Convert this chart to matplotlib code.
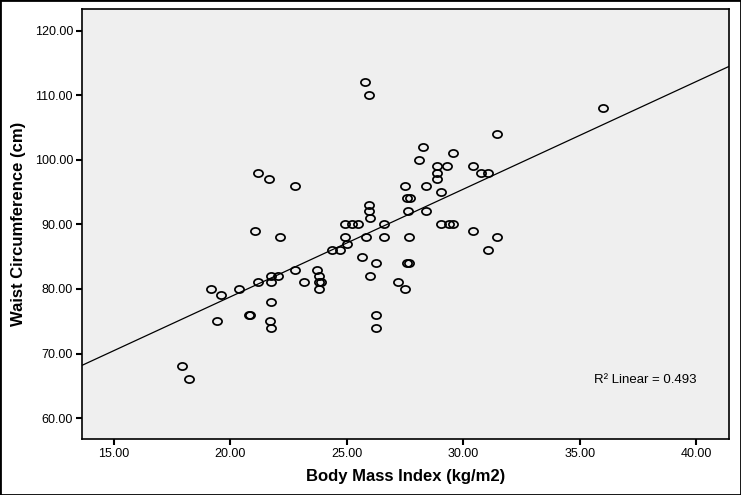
"""
BMI vs waist circumference scatter with linear fit line (SPSS style)
"""

import numpy as np
import matplotlib
matplotlib.use('Agg')
from matplotlib import pyplot as plt
from matplotlib.path import Path
from matplotlib.transforms import Affine2D
from matplotlib.patches import Rectangle

plt.rcParams['font.family'] = ['Liberation Sans', 'DejaVu Sans']

bmi = [25.80, 25.94, 36.00, 31.44, 28.26, 29.55, 28.08, 28.89, 29.30, 30.41,
       28.89, 30.75, 31.08, 21.19, 28.89, 21.67, 27.49, 28.38, 22.77, 29.06,
       27.59, 27.73, 25.94, 25.94, 27.63, 28.38, 26.00, 24.93, 25.24, 25.50,
       26.60, 29.06, 29.39, 29.56, 30.41, 21.05, 24.93, 25.82, 26.60, 27.66,
       31.44, 22.15, 25.01, 24.36, 24.70, 31.08, 25.63, 26.26, 27.60, 27.68,
       22.77, 23.73, 23.81, 21.73, 22.03, 25.99, 21.74, 21.19, 23.17, 23.80,
       23.90, 27.18, 23.81, 19.16, 20.38, 27.49, 19.59, 21.74, 20.79, 20.86,
       26.26, 19.41, 21.70, 21.74, 26.26, 17.93, 18.22]

waist = [112, 110, 108, 104, 102, 101, 100, 99, 99, 99,
         98, 98, 98, 98, 97, 97, 96, 96, 96, 95,
         94, 94, 93, 92, 92, 92, 91, 90, 90, 90,
         90, 90, 90, 90, 89, 89, 88, 88, 88, 88,
         88, 88, 87, 86, 86, 86, 85, 84, 84, 84,
         83, 83, 82, 82, 82, 82, 81, 81, 81, 81,
         81, 81, 80, 80, 80, 80, 79, 78, 76, 76,
         76, 75, 75, 74, 74, 68, 66]

x_ticks = [15, 20, 25, 30, 35, 40]
y_ticks = [60, 70, 80, 90, 100, 110, 120]
r2_label = 'R\u00b2 Linear = 0.493'


def draw_chart():
    fig = plt.figure(figsize=(7.41, 4.95), dpi=100)
    ax = fig.add_axes([0.1107, 0.1125, 0.8735, 0.8693])
    ax.set_facecolor('#efefef')

    # slightly flattened open circle, like the SPSS export
    ellipse = Path.unit_circle().transformed(Affine2D().scale(1.0, 0.78))
    ax.plot(bmi, waist, linestyle='none', marker=ellipse, markersize=6.6,
            markerfacecolor='none', markeredgecolor='black', markeredgewidth=1.25)

    xlim = (13.63, 41.42)
    slope, intercept = np.polyfit(bmi, waist, 1)
    fx = np.array(xlim)
    ax.plot(fx, slope * fx + intercept, color='black', linewidth=0.9)

    ax.set_xlim(xlim)
    ax.set_ylim(56.72, 123.33)
    ax.set_xticks(x_ticks)
    ax.set_yticks(y_ticks)
    ax.set_xticklabels([f'{v:.2f}' for v in x_ticks])
    ax.set_yticklabels([f'{v:.2f}' for v in y_ticks])
    ax.tick_params(direction='out', length=4.5, width=1.5, labelsize=9, pad=2)

    for s in ax.spines.values():
        s.set_linewidth(1.2)

    ax.set_xlabel('Body Mass Index (kg/m2)', fontsize=12, fontweight='bold', labelpad=6)
    ax.set_ylabel('Waist Circumference (cm)', fontsize=12, fontweight='bold', labelpad=6)

    ax.text(35.6, 65.9, r2_label, fontsize=9.5, va='center', ha='left')

    fig.patches.append(Rectangle((0, 0), 1, 1, transform=fig.transFigure,
                                 fill=False, edgecolor='black', linewidth=2))
    fig.savefig('out.png', dpi=100)


if __name__ == '__main__':
    draw_chart()
